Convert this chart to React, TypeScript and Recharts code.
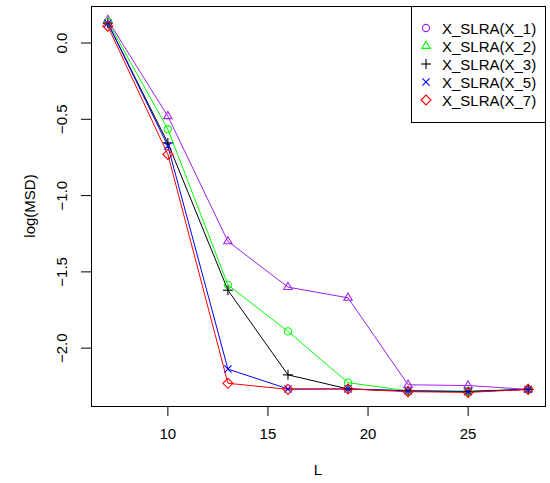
import React from "react";
import { LineChart, Line, XAxis, YAxis } from "recharts";

// window length L and log(MSD) per estimator
const L = [7, 10, 13, 16, 19, 22, 25, 28];
const X1 = [0.15, -0.48, -1.3, -1.6, -1.67, -2.24, -2.245, -2.27];
const X2 = [0.14, -0.565, -1.585, -1.89, -2.226, -2.28, -2.28, -2.27];
const X3 = [0.13, -0.655, -1.62, -2.175, -2.267, -2.28, -2.285, -2.27];
const X5 = [0.13, -0.675, -2.137, -2.267, -2.267, -2.28, -2.285, -2.27];
const X7 = [0.11, -0.73, -2.23, -2.27, -2.267, -2.285, -2.29, -2.27];

const xTicks = [10, 15, 20, 25];
const yTicks = [-2, -1.5, -1, -0.5, 0];

const seriesKeys = ["x1", "x2", "x3", "x5", "x7"];
const seriesNames = ["X_SLRA(X_1)", "X_SLRA(X_2)", "X_SLRA(X_3)", "X_SLRA(X_5)", "X_SLRA(X_7)"];
const seriesValues = [X1, X2, X3, X5, X7];
const seriesColors = ["#a020f0", "#00ff00", "#000000", "#0000ff", "#ff0000"];
// the plot and the legend do not use the same symbols for the first two series
const lineMarkers = ["triangle", "circle", "plus", "cross", "diamond"];
const legendMarkers = ["circle", "triangle", "plus", "cross", "diamond"];

const FONT = '"Liberation Sans", Arial, Helvetica, sans-serif';

const data = L.map((l, i) => {
  const row: Record<string, number> = { L: l };
  seriesKeys.forEach((k, s) => {
    row[k] = seriesValues[s][i];
  });
  return row;
});

function Marker({ kind, cx, cy, color }: { kind: string; cx: number; cy: number; color: string }) {
  const sw = 1.1;
  if (kind === "circle") return <circle cx={cx} cy={cy} r={3.6} fill="none" stroke={color} strokeWidth={sw} />;
  if (kind === "triangle") {
    const r = 4.8;
    const pts = `${cx},${cy - r} ${cx - r * 0.87},${cy + r * 0.5} ${cx + r * 0.87},${cy + r * 0.5}`;
    return <polygon points={pts} fill="none" stroke={color} strokeWidth={sw} />;
  }
  if (kind === "plus") {
    const r = 5;
    return (
      <g stroke={color} strokeWidth={sw}>
        <line x1={cx - r} y1={cy} x2={cx + r} y2={cy} />
        <line x1={cx} y1={cy - r} x2={cx} y2={cy + r} />
      </g>
    );
  }
  if (kind === "cross") {
    const r = 3.6;
    return (
      <g stroke={color} strokeWidth={sw}>
        <line x1={cx - r} y1={cy - r} x2={cx + r} y2={cy + r} />
        <line x1={cx - r} y1={cy + r} x2={cx + r} y2={cy - r} />
      </g>
    );
  }
  const r = 5;
  const pts = `${cx},${cy - r} ${cx + r},${cy} ${cx},${cy + r} ${cx - r},${cy}`;
  return <polygon points={pts} fill="none" stroke={color} strokeWidth={sw} />;
}

function fmtY(v: number) {
  if (v === 0) return "0.0";
  return (v < 0 ? "\u2212" : "") + Math.abs(v).toFixed(1);
}

function YTick(props: any) {
  const { y, payload } = props;
  return (
    <text
      x={62}
      y={y}
      transform={`rotate(-90, 62, ${y})`}
      textAnchor="middle"
      dominantBaseline="central"
      fontSize={15}
      fontFamily={FONT}
      fill="#000"
    >
      {fmtY(payload.value)}
    </text>
  );
}

export default function App() {
  return (
    <div style={{ position: "absolute", left: 0, top: 0, width: 550, height: 483, background: "#fff", fontFamily: FONT }}>
      <LineChart width={550} height={483} data={data} margin={{ top: 6, right: 5, left: 41, bottom: 37 }}>
        <XAxis
          dataKey="L"
          type="number"
          domain={[6.16, 28.84]}
          ticks={xTicks}
          allowDataOverflow
          axisLine={false}
          tickLine={{ stroke: "#000" }}
          tickSize={10}
          tickMargin={12}
          height={40}
          tick={{ fontSize: 15, fill: "#000", fontFamily: FONT }}
          label={{ value: "L", position: "bottom", offset: 18, fontSize: 15, fill: "#000", fontFamily: FONT }}
        />
        <YAxis
          type="number"
          domain={[-2.379, 0.2425]}
          ticks={yTicks}
          allowDataOverflow
          axisLine={false}
          tickLine={{ stroke: "#000" }}
          tickSize={10}
          width={50}
          tick={<YTick />}
          label={{
            value: "log(MSD)",
            angle: -90,
            position: "insideLeft",
            offset: -11,
            fontSize: 15,
            fill: "#000",
            fontFamily: FONT,
            style: { textAnchor: "middle" },
          }}
        />
        {seriesKeys.map((k, s) => (
          <Line
            key={k}
            dataKey={k}
            type="linear"
            stroke={seriesColors[s]}
            strokeWidth={1}
            isAnimationActive={false}
            dot={(p: any) => (
              <Marker key={`${k}-${p.index}`} kind={lineMarkers[s]} cx={p.cx} cy={p.cy} color={seriesColors[s]} />
            )}
            activeDot={false}
          />
        ))}
      </LineChart>
      <div
        style={{
          position: "absolute",
          left: 91,
          top: 6,
          width: 455,
          height: 401,
          boxSizing: "border-box",
          border: "1px solid #000",
          pointerEvents: "none",
        }}
      />
      <div
        style={{
          position: "absolute",
          left: 411,
          top: 6,
          width: 135,
          height: 117,
          boxSizing: "border-box",
          border: "1px solid #000",
          background: "#fff",
          paddingTop: 12,
        }}
      >
        {seriesNames.map((name, s) => (
          <div key={name} style={{ display: "flex", alignItems: "center", height: 18 }}>
            <svg width={30} height={18} style={{ flex: "none" }}>
              <Marker kind={legendMarkers[s]} cx={14} cy={9} color={seriesColors[s]} />
            </svg>
            <span style={{ fontSize: 15, color: "#000", whiteSpace: "nowrap" }}>{name}</span>
          </div>
        ))}
      </div>
    </div>
  );
}
